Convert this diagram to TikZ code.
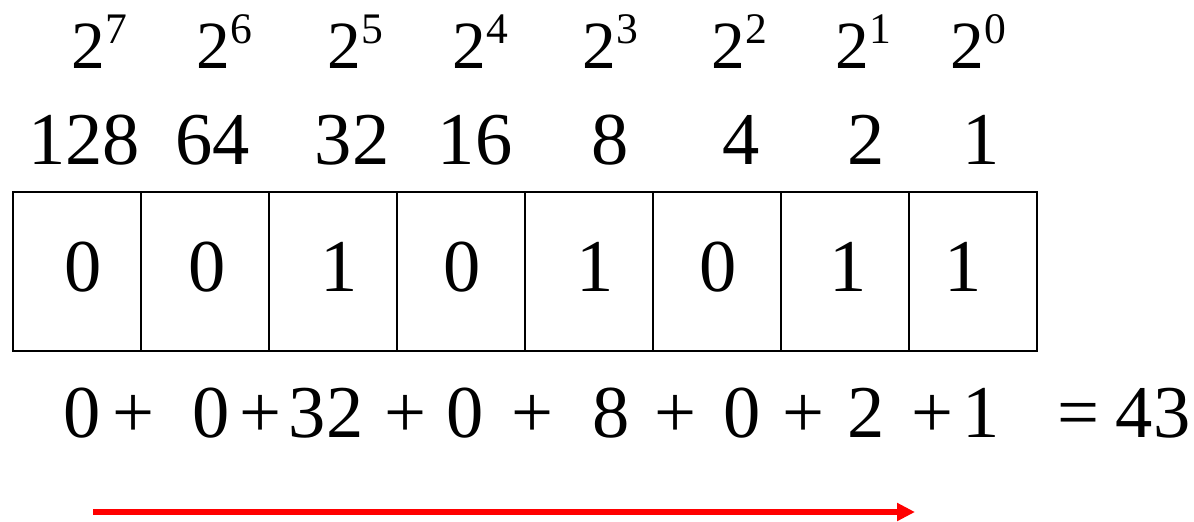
\documentclass[tikz,border=0pt]{standalone}
\usepackage{fontspec}
\setmainfont{Liberation Serif}
\usetikzlibrary{arrows.meta}
\begin{document}
\begin{tikzpicture}[x=0.025cm, y=-0.025cm,
    bitcell/.style={draw, line width=1.4pt, minimum width=3.2cm, minimum height=3.975cm, inner sep=0pt},
    numtext/.style={anchor=base, inner sep=0pt, font=\fontsize{53}{60}\selectfont},
    powtext/.style={anchor=base west, inner sep=0pt, font=\fontsize{48}{56}\selectfont}]
    \useasboundingbox (0,0) rectangle (1194,521);

    % Potencias de dos
    \foreach \x/\e [count=\i] in {71/7, 196/6, 327/5, 452/4, 582/3, 711/2, 835/1, 950/0}{
        \node[powtext] (pw\i) at (\x,68)
            {2\raisebox{0.6cm}{\fontsize{31}{34}\selectfont\e}};
    }

    % Valores de cada posicion
    \foreach \x/\v [count=\i] in {84/128, 212.5/64, 352/32, 475/16, 610/8, 741.5/4, 866/2, 981.5/1}{
        \node[numtext] (val\i) at (\x,164) {\v};
    }

    % Celdas con los bits
    \foreach \x/\b [count=\i] in {83.5/0, 207/0, 339/1, 462/0, 595/1, 718/0, 848/1, 963/1}{
        \node[bitcell] (cell\i) at ({77+128*(\i-1)},271.5) {};
        \node[numtext] (bit\i) at (\x,291) {\b};
    }

    % Suma
    \foreach \x/\t [count=\i] in {82.5/0, 133.5/+, 211/0, 261/+, 326/32, 405.5/+, 465/0, 533/+,
        611/8, 676/+, 742.5/0, 804/+, 866/2, 932/+, 981.5/1, 1078.5/=, 1153/43}{
        \node[numtext] (sum\i) at (\x,437) {\t};
    }

    \coordinate (arrA) at (93,512);
    \coordinate (arrB) at (915,512);
    \draw[red, line width=0.15cm, -{Triangle[length=0.45cm, width=0.43cm]}] (arrA) -- (arrB);
\end{tikzpicture}
\end{document}
